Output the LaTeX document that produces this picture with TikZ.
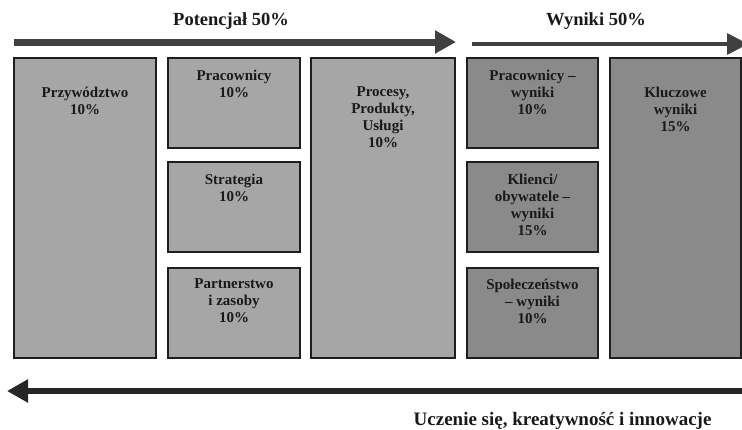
\documentclass[tikz,border=0pt]{standalone}
\usepackage{fontspec}
\setmainfont{Liberation Serif}
\usepackage{xcolor}
\usepackage{tikz}
\usetikzlibrary{positioning, arrows.meta}
\definecolor{BoxLt} {HTML}{A6A6A6}
\definecolor{BoxDk} {HTML}{8A8A8A}
\definecolor{EdgeBk}{HTML}{1E1E1E}
\definecolor{ArrGry}{HTML}{404040}
\definecolor{ArrDk} {HTML}{262626}

\begin{document}
\begin{tikzpicture}[
  x=1pt, y=-1pt,
  font=\fontsize{15}{17}\selectfont\bfseries,
  every node/.style={align=center},
  potbox/.style = {draw=EdgeBk, fill=BoxLt, line width=1.3pt, anchor=north west,
                   inner sep=0pt, outer sep=0pt},
  resbox/.style = {potbox, fill=BoxDk},
  lbl/.style    = {anchor=north, inner sep=0pt, outer sep=0pt, text=black!90},
  ttl/.style    = {font=\fontsize{18.5}{22}\selectfont\bfseries, text=black!90},
  flow/.style   = {-{Triangle[length=21pt,width=22pt]}, ArrGry},
]
\useasboundingbox (0,0) rectangle (742,429);

% Potencjal: enablers
\node[potbox, minimum width=142pt, minimum height=300pt] (przyw) at (14, 58)  {};
\node[potbox, minimum width=132pt, minimum height=90pt]  (prac)  at (168,58)  {};
\node[potbox, minimum width=132pt, minimum height=90pt]  (strat) at (168,162) {};
\node[potbox, minimum width=132pt, minimum height=90pt]  (partn) at (168,268) {};
\node[potbox, minimum width=144pt, minimum height=300pt] (proc)  at (311,58)  {};
% Wyniki: results
\node[resbox, minimum width=131pt, minimum height=90pt]  (pracw) at (467,58)  {};
\node[resbox, minimum width=131pt, minimum height=90pt]  (klien) at (467,162) {};
\node[resbox, minimum width=131pt, minimum height=90pt]  (spol)  at (467,268) {};
\node[resbox, minimum width=131pt, minimum height=300pt] (kluc)  at (610,58)  {};

\node[lbl, below=29pt of przyw.north] (t_przyw) {Przywództwo\\10\%};
\node[lbl, below=12pt of prac.north]  (t_prac)  {Pracownicy\\10\%};
\node[lbl, below=12pt of strat.north] (t_strat) {Strategia\\10\%};
\node[lbl, below=11pt of partn.north] (t_partn) {Partnerstwo\\i zasoby\\10\%};
\node[lbl, below=29pt of proc.north]  (t_proc)  {Procesy,\\Produkty,\\Usługi\\10\%};
\node[lbl, below=12pt of pracw.north] (t_pracw) {Pracownicy --\\wyniki\\10\%};
\node[lbl, below=12pt of klien.north] (t_klien) {Klienci/\\obywatele --\\wyniki\\15\%};
\node[lbl, below=11pt of spol.north]  (t_spol)  {Społeczeństwo\\-- wyniki\\10\%};
\node[lbl, below=29pt of kluc.north]  (t_kluc)  {Kluczowe\\wyniki\\15\%};

% headings and arrows
\node[ttl] (potencjal) at (231,21) {Potencjał 50\%};
\node[ttl] (wyniki)    at (596,21) {Wyniki 50\%};
\coordinate (p_start) at (14, 42);
\coordinate (p_end)   at (456,42);
\coordinate (w_start) at (472,44);
\coordinate (w_end)   at (748,44);
\coordinate (u_start) at (742,391);
\coordinate (u_end)   at (7,  391);
\draw[flow, line width=7pt]   (p_start) -- (p_end);
\draw[flow, line width=3.5pt, -{Triangle[length=21pt,width=21pt]}] (w_start) -- (w_end);
\draw[flow, line width=6pt, ArrDk] (u_start) -- (u_end);
\node[font=\fontsize{19}{22}\selectfont\bfseries, anchor=base east, text=black!90]
     (uczenie) at (715,425) {Uczenie się, kreatywność i innowacje};
\end{tikzpicture}
\end{document}
